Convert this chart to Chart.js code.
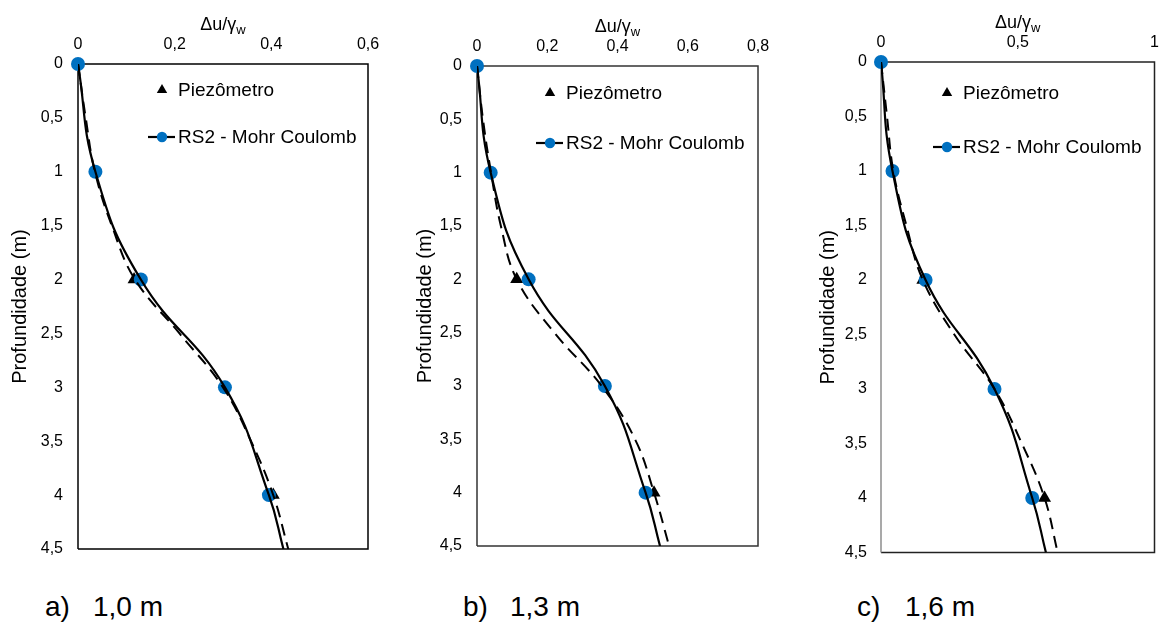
<!DOCTYPE html>
<html>
<head>
<meta charset="utf-8">
<script src="https://cdn.jsdelivr.net/npm/chart.js@4.4.0/dist/chart.umd.min.js"></script>
<style>
html,body{margin:0;padding:0;background:#fff;}
body{width:1162px;height:623px;position:relative;overflow:hidden;font-family:"Liberation Sans",Arial,sans-serif;}
.box{position:absolute;top:0;}
.cap{position:absolute;top:593px;font-size:28px;line-height:1;color:#000;white-space:nowrap;}
</style>
</head>
<body>
<div class="box" style="left:0px"><canvas id="cA" width="385" height="560"></canvas></div>
<div class="box" style="left:400px"><canvas id="cB" width="380" height="560"></canvas></div>
<div class="box" style="left:790px"><canvas id="cC" width="372" height="560"></canvas></div>
<div class="cap" style="left:45px">a)</div><div class="cap" style="left:93px">1,0 m</div>
<div class="cap" style="left:463px">b)</div><div class="cap" style="left:510px">1,3 m</div>
<div class="cap" style="left:857px">c)</div><div class="cap" style="left:905px">1,6 m</div>
<script>
// ---------- DATA ----------
const rs2Depths = [0, 1, 2, 3, 4];           // RS2 marker depths (m)
const rs2LineDepths = [0, 1, 2, 3, 4, 4.5];  // RS2 solid curve depths (m)
const piezoDepths = [2, 4];                  // piezometer depths (m)
const piezoCurveDepths = [0, 0.5, 1, 1.5, 2, 2.5, 3, 3.5, 4, 4.5]; // dashed curve depths

// panel a) 1,0 m
const rs2A = [0, 0.036, 0.130, 0.304, 0.395];
const rs2LineA = [0, 0.036, 0.130, 0.304, 0.395, 0.425];
const piezoA = [0.116, 0.404];
const piezoCurveA = [0, 0.016, 0.035, 0.070, 0.118, 0.210, 0.300, 0.358, 0.404, 0.435];

// panel b) 1,3 m
const rs2B = [0, 0.039, 0.147, 0.364, 0.480];
const rs2LineB = [0, 0.039, 0.147, 0.364, 0.480, 0.521];
const piezoB = [0.113, 0.504];
const piezoCurveB = [0, 0.017, 0.040, 0.068, 0.113, 0.220, 0.355, 0.450, 0.504, 0.547];

// panel c) 1,6 m
const rs2C = [0, 0.042, 0.163, 0.415, 0.553];
const rs2LineC = [0, 0.042, 0.163, 0.415, 0.553, 0.603];
const piezoC = [0.153, 0.598];
const piezoCurveC = [0, 0.022, 0.045, 0.093, 0.153, 0.268, 0.415, 0.515, 0.598, 0.646];

// tick values / labels
const xTickValsA = [0, 0.2, 0.4, 0.6];
const xTickLabelsA = ['0', '0,2', '0,4', '0,6'];
const xTickValsB = [0, 0.2, 0.4, 0.6, 0.8];
const xTickLabelsB = ['0', '0,2', '0,4', '0,6', '0,8'];
const xTickValsC = [0, 0.5, 1];
const xTickLabelsC = ['0', '0,5', '1'];
const yTickVals = [0, 0.5, 1, 1.5, 2, 2.5, 3, 3.5, 4, 4.5];
const yTickLabels = ['0', '0,5', '1', '1,5', '2', '2,5', '3', '3,5', '4', '4,5'];

const seriesNames = ['Piezômetro', 'RS2 - Mohr Coulomb'];
const xTitle = ['Δu/γ', 'w'];
const yTitle = 'Profundidade (m)';

// ---------- RENDER ----------
const FONT = '"Liberation Sans", Arial, sans-serif';
const BLUE = '#0070C0';
const pts = (xs, ys) => xs.map((x, i) => ({x: x, y: ys[i]}));
const labelFor = (vals, labels) => (v) => {
  const i = vals.findIndex(t => Math.abs(t - v) < 1e-6);
  return i >= 0 ? labels[i] : '';
};

const decor = {
  id: 'decor',
  beforeDatasetsDraw(chart, args, o) {
    const {ctx, chartArea: a} = chart;
    ctx.save();
    ctx.lineWidth = 1.5;
    ctx.strokeStyle = o.borderColor;
    ctx.beginPath();
    ctx.moveTo(a.left, a.top); ctx.lineTo(a.right, a.top);
    ctx.lineTo(a.right, a.bottom); ctx.lineTo(a.left, a.bottom);
    ctx.stroke();
    ctx.strokeStyle = o.leftColor;
    ctx.beginPath();
    ctx.moveTo(a.left, a.top); ctx.lineTo(a.left, a.bottom);
    ctx.stroke();
    ctx.restore();
  },
  afterDraw(chart, args, o) {
    const {ctx, chartArea: a} = chart;
    ctx.save();
    // x-axis title with subscript
    ctx.fillStyle = '#000';
    ctx.textBaseline = 'middle';
    ctx.font = '18px ' + FONT;
    const w1 = ctx.measureText(xTitle[0]).width;
    ctx.font = '13px ' + FONT;
    const w2 = ctx.measureText(xTitle[1]).width;
    const cx = (a.left + a.right) / 2;
    const ty = a.top - 39;
    let sx = cx - (w1 + w2) / 2;
    ctx.font = '18px ' + FONT;
    ctx.textAlign = 'left';
    ctx.fillText(xTitle[0], sx, ty);
    ctx.font = '13px ' + FONT;
    ctx.fillText(xTitle[1], sx + w1, ty + 5);

    // legend inside plot
    const L = o.legend;
    const tx = a.left + L.dx, t1 = a.top + L.dy1, t2 = a.top + L.dy2;
    ctx.fillStyle = '#000';
    const r = 6;
    ctx.beginPath();
    ctx.moveTo(tx, t1 - r);
    ctx.lineTo(tx + r * 0.866, t1 + r * 0.5);
    ctx.lineTo(tx - r * 0.866, t1 + r * 0.5);
    ctx.closePath();
    ctx.fill();
    ctx.strokeStyle = '#000';
    ctx.lineWidth = 2.2;
    ctx.beginPath();
    ctx.moveTo(tx - 14, t2); ctx.lineTo(tx + 13, t2);
    ctx.stroke();
    ctx.fillStyle = BLUE;
    ctx.beginPath();
    ctx.arc(tx, t2, 5.2, 0, Math.PI * 2);
    ctx.fill();
    ctx.fillStyle = '#000';
    ctx.font = '19px ' + FONT;
    ctx.textBaseline = 'middle';
    ctx.fillText(seriesNames[0], tx + 16, t1 + 1);
    ctx.fillText(seriesNames[1], tx + 16, t2 + 1);
    ctx.restore();
  }
};

function makeChart(id, cfg) {
  new Chart(document.getElementById(id), {
    type: 'scatter',
    data: {
      datasets: [
        { label: seriesNames[1] + ' curve', data: pts(cfg.rs2Line, rs2LineDepths), showLine: true,
          borderColor: '#000', borderWidth: 2.2, tension: 0.45, pointRadius: 0, order: 0 },
        { label: seriesNames[0] + ' curve', data: pts(cfg.piezoCurve, piezoCurveDepths), showLine: true,
          borderColor: '#000', borderWidth: 2, borderDash: [12, 7], tension: 0.4, pointRadius: 0, order: 1 },
        { label: seriesNames[1], data: pts(cfg.rs2, rs2Depths), showLine: false, clip: false,
          pointStyle: 'circle', pointRadius: 7, backgroundColor: BLUE, borderColor: BLUE, borderWidth: 0, order: 2 },
        { label: seriesNames[0], data: pts(cfg.piezo, piezoDepths), showLine: false, clip: false,
          pointStyle: 'triangle', pointRadius: 7.5, backgroundColor: '#000', borderColor: '#000', borderWidth: 0, order: 3 }
      ]
    },
    options: {
      responsive: false,
      animation: false,
      devicePixelRatio: 1,
      layout: { padding: cfg.pad },
      plugins: {
        legend: { display: false },
        tooltip: { enabled: false },
        decor: { borderColor: cfg.border, leftColor: cfg.leftBorder, legend: cfg.legend }
      },
      scales: {
        x: {
          type: 'linear', position: 'top', min: 0, max: cfg.xMax,
          grid: { display: false, drawTicks: false }, border: { display: false },
          afterBuildTicks(s) { s.ticks = cfg.xVals.map(v => ({value: v})); },
          afterFit(s) { s.height = cfg.xH; s.paddingLeft = 0; s.paddingRight = 0; },
          ticks: { padding: 10, color: '#000', font: { family: FONT, size: 16 },
                   maxRotation: 0, autoSkip: false, callback: labelFor(cfg.xVals, cfg.xLabels) }
        },
        y: {
          type: 'linear', reverse: true, min: 0, max: 4.5,
          grid: { display: false, drawTicks: false }, border: { display: false },
          afterBuildTicks(s) { s.ticks = yTickVals.map(v => ({value: v})); },
          afterFit(s) { s.width = cfg.yW; s.paddingTop = 0; s.paddingBottom = 0; },
          ticks: { padding: cfg.yPad, color: '#000', font: { family: FONT, size: 16 },
                   autoSkip: false, callback: labelFor(yTickVals, yTickLabels) },
          title: { display: true, text: yTitle, color: '#000', padding: 0,
                   font: { family: FONT, size: 20 } }
        }
      }
    },
    plugins: [decor]
  });
}

makeChart('cA', {
  rs2: rs2A, rs2Line: rs2LineA, piezo: piezoA, piezoCurve: piezoCurveA,
  xMax: 0.6, xVals: xTickValsA, xLabels: xTickLabelsA,
  pad: { left: 8, top: 0, right: 17, bottom: 11 }, yW: 70, xH: 64, yPad: 15,
  border: '#000', leftBorder: '#000',
  legend: { dx: 84, dy1: 26, dy2: 73 }
});
makeChart('cB', {
  rs2: rs2B, rs2Line: rs2LineB, piezo: piezoB, piezoCurve: piezoCurveB,
  xMax: 0.8, xVals: xTickValsB, xLabels: xTickLabelsB,
  pad: { left: 13, top: 0, right: 22, bottom: 14 }, yW: 64, xH: 66, yPad: 15,
  border: '#333', leftBorder: '#333',
  legend: { dx: 73, dy1: 27, dy2: 77 }
});
makeChart('cC', {
  rs2: rs2C, rs2Line: rs2LineC, piezo: piezoC, piezoCurve: piezoCurveC,
  xMax: 1, xVals: xTickValsC, xLabels: xTickLabelsC,
  pad: { left: 26, top: 0, right: 5, bottom: 6 }, yW: 65, xH: 62, yPad: 14,
  border: '#222', leftBorder: '#8c8c8c',
  legend: { dx: 66, dy1: 31, dy2: 85 }
});
</script>
</body>
</html>
